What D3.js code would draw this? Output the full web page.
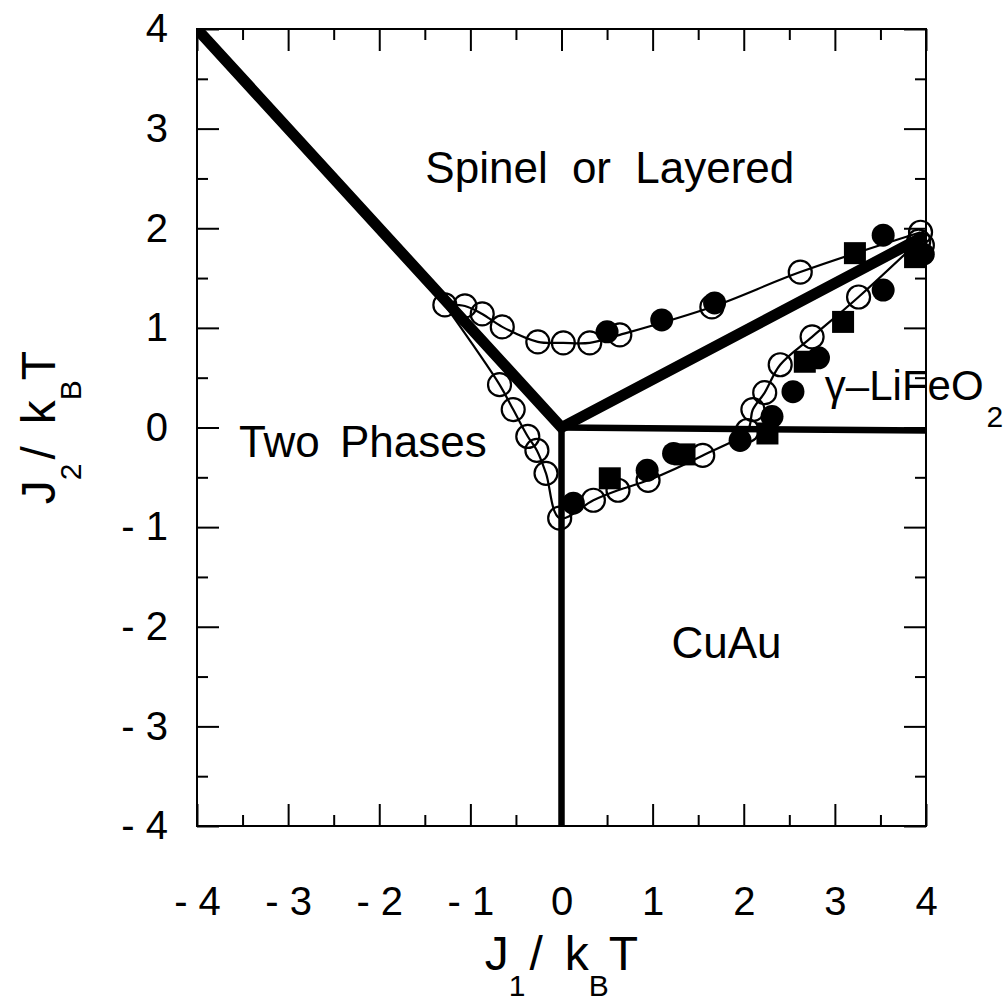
<!DOCTYPE html>
<html><head><meta charset="utf-8">
<script src="https://cdn.jsdelivr.net/npm/d3@7"></script>
<style>body{margin:0;background:#fff}svg{display:block}</style>
</head><body><svg id="c" width="1008" height="1007"></svg>
<script>
// ---- data ----
const majorTicks = [-4, -3, -2, -1, 0, 1, 2, 3, 4];
const minorTicks = [-3.5, -2.5, -1.5, -0.5, 0.5, 1.5, 2.5, 3.5];
const boundaryThick = [[-4, 4], [0, 0], [4, 1.93]];
const boundaryVertical = [[0, 0], [0, -4]];
const boundaryHorizontal = [[0, 0], [4, -0.03]];
const upperCurve = [[-1.28, 1.23], [-1.06, 1.22], [-0.87, 1.14], [-0.65, 1.01], [-0.26, 0.86], [0.02, 0.85], [0.31, 0.85], [0.64, 0.93], [1.65, 1.21], [2.62, 1.56], [3.94, 1.96]];
const lowerCurve = [[-1.28, 1.23], [-0.68, 0.43], [-0.53, 0.18], [-0.37, -0.09], [-0.27, -0.23], [-0.17, -0.46], [-0.02, -0.91], [0.35, -0.73], [0.62, -0.63], [0.95, -0.53], [1.55, -0.28], [2.04, -0.03], [2.10, 0.18], [2.23, 0.35], [2.40, 0.63], [2.75, 0.91], [3.26, 1.31], [3.92, 1.87]];
const openExtra = [[3.96, 1.83]];
const filledCircles = [[0.50, 0.96], [1.10, 1.08], [1.68, 1.25], [3.53, 1.93], [0.13, -0.76], [0.94, -0.43], [1.23, -0.26], [1.96, -0.13], [2.31, 0.11], [2.54, 0.36], [2.82, 0.70], [3.53, 1.38], [3.97, 1.74]];
const filledSquares = [[3.22, 1.75], [3.88, 1.71], [0.53, -0.51], [1.35, -0.27], [2.26, -0.06], [2.67, 0.66], [3.09, 1.06]];
const regionNames = ["Spinel or Layered", "Two Phases", "CuAu", "γ–LiFeO"];

// ---- layout ----
const svg = d3.select("#c");
const L = 197, R = 926, T = 29, B = 826;
const x = d3.scaleLinear().domain([-4, 4]).range([L, R]);
const y = d3.scaleLinear().domain([-4, 4]).range([B, T]);
const font = "'Liberation Sans', Arial, Helvetica, sans-serif";
const fmt = d => d < 0 ? "- " + Math.abs(d) : String(d);

svg.append("defs").append("clipPath").attr("id", "clip")
  .append("rect").attr("x", L).attr("y", T).attr("width", R - L).attr("height", B - T);

// ticks (inward, all sides)
function axisGroup(axis, tx, ty) {
  const g = svg.append("g").attr("transform", `translate(${tx},${ty})`).call(axis);
  g.select(".domain").remove();
  g.selectAll("line").attr("stroke", "#000").attr("stroke-width", 2);
  g.selectAll("text").attr("font-family", font).attr("font-size", 40).attr("fill", "#000");
  return g;
}
axisGroup(d3.axisBottom(x).tickValues(majorTicks).tickSize(-22).tickPadding(61).tickFormat(fmt), 0, B);
axisGroup(d3.axisBottom(x).tickValues(minorTicks).tickSize(-11).tickFormat(""), 0, B);
axisGroup(d3.axisTop(x).tickValues(majorTicks).tickSize(-22).tickFormat(""), 0, T);
axisGroup(d3.axisTop(x).tickValues(minorTicks).tickSize(-11).tickFormat(""), 0, T);
axisGroup(d3.axisLeft(y).tickValues(majorTicks).tickSize(-22).tickPadding(29).tickFormat(fmt), L, 0);
axisGroup(d3.axisLeft(y).tickValues(minorTicks).tickSize(-11).tickFormat(""), L, 0);
axisGroup(d3.axisRight(y).tickValues(majorTicks).tickSize(-22).tickFormat(""), R, 0);
axisGroup(d3.axisRight(y).tickValues(minorTicks).tickSize(-11).tickFormat(""), R, 0);

// frame
svg.append("rect").attr("x", L).attr("y", T).attr("width", R - L).attr("height", B - T)
  .attr("fill", "none").attr("stroke", "#000").attr("stroke-width", 2);

const plot = svg.append("g").attr("clip-path", "url(#clip)");
const line = d3.line().x(d => x(d[0])).y(d => y(d[1]));

// phase boundaries
plot.append("path").attr("d", line(boundaryThick)).attr("fill", "none")
  .attr("stroke", "#000").attr("stroke-width", 11).attr("stroke-linejoin", "miter");
plot.append("path").attr("d", line(boundaryVertical)).attr("fill", "none")
  .attr("stroke", "#000").attr("stroke-width", 6.5);
plot.append("path").attr("d", line(boundaryHorizontal)).attr("fill", "none")
  .attr("stroke", "#000").attr("stroke-width", 6.5);

// thin curves
const smooth = d3.line().x(d => x(d[0])).y(d => y(d[1])).curve(d3.curveCatmullRom.alpha(0.5));
plot.append("path").attr("d", smooth(upperCurve)).attr("fill", "none").attr("stroke", "#000").attr("stroke-width", 2.2);
plot.append("path").attr("d", smooth(lowerCurve)).attr("fill", "none").attr("stroke", "#000").attr("stroke-width", 2.2);

// filled markers
svg.append("g").selectAll("rect").data(filledSquares).join("rect")
  .attr("x", d => x(d[0]) - 11).attr("y", d => y(d[1]) - 11)
  .attr("width", 22).attr("height", 22).attr("fill", "#000");
svg.append("g").selectAll("circle").data(filledCircles).join("circle")
  .attr("cx", d => x(d[0])).attr("cy", d => y(d[1])).attr("r", 11.5).attr("fill", "#000");

// open circles
const openPts = upperCurve.concat(lowerCurve.slice(1), openExtra);
svg.append("g").selectAll("circle").data(openPts).join("circle")
  .attr("cx", d => x(d[0])).attr("cy", d => y(d[1])).attr("r", 11.5)
  .attr("fill", "none").attr("stroke", "#000").attr("stroke-width", 2.2);

// region labels
const lab = (t, dx, dy, anchor, ws) => svg.append("text")
  .attr("x", x(dx)).attr("y", y(dy)).attr("text-anchor", anchor)
  .attr("font-family", font).attr("font-size", 44).attr("word-spacing", ws).attr("fill", "#000").text(t);
lab(regionNames[0], 0.53, 2.45, "middle", 12);
lab(regionNames[1], -2.18, -0.30, "middle", 8);
lab(regionNames[2], 1.81, -2.31, "middle", 0);
const g2 = lab(regionNames[3], 2.89, 0.28, "start", 0).attr("font-size", 42);
g2.append("tspan").attr("dy", 27).attr("dx", 3).attr("font-size", 30).text("2");

// axis titles
function title(sel, a, s1, b, s2, c) {
  const t = sel.append("text").attr("text-anchor", "middle").attr("font-family", font)
    .attr("font-size", 48).attr("fill", "#000");
  t.append("tspan").text(a);
  t.append("tspan").attr("dy", 26).attr("font-size", 30).text(s1);
  t.append("tspan").attr("dy", -26).attr("dx", 4).text(b);
  t.append("tspan").attr("dx", 22).text("k");
  t.append("tspan").attr("dy", 26).attr("font-size", 30).text(s2);
  t.append("tspan").attr("dy", -26).text(c);
  return t;
}
title(svg.append("g").attr("transform", `translate(${x(0)},970)`), "J", "1", "/", "B", "T");
title(svg.append("g").attr("transform", `translate(55,${y(0)}) rotate(-90)`), "J", "2", "/", "B", "T");
</script></body></html>
